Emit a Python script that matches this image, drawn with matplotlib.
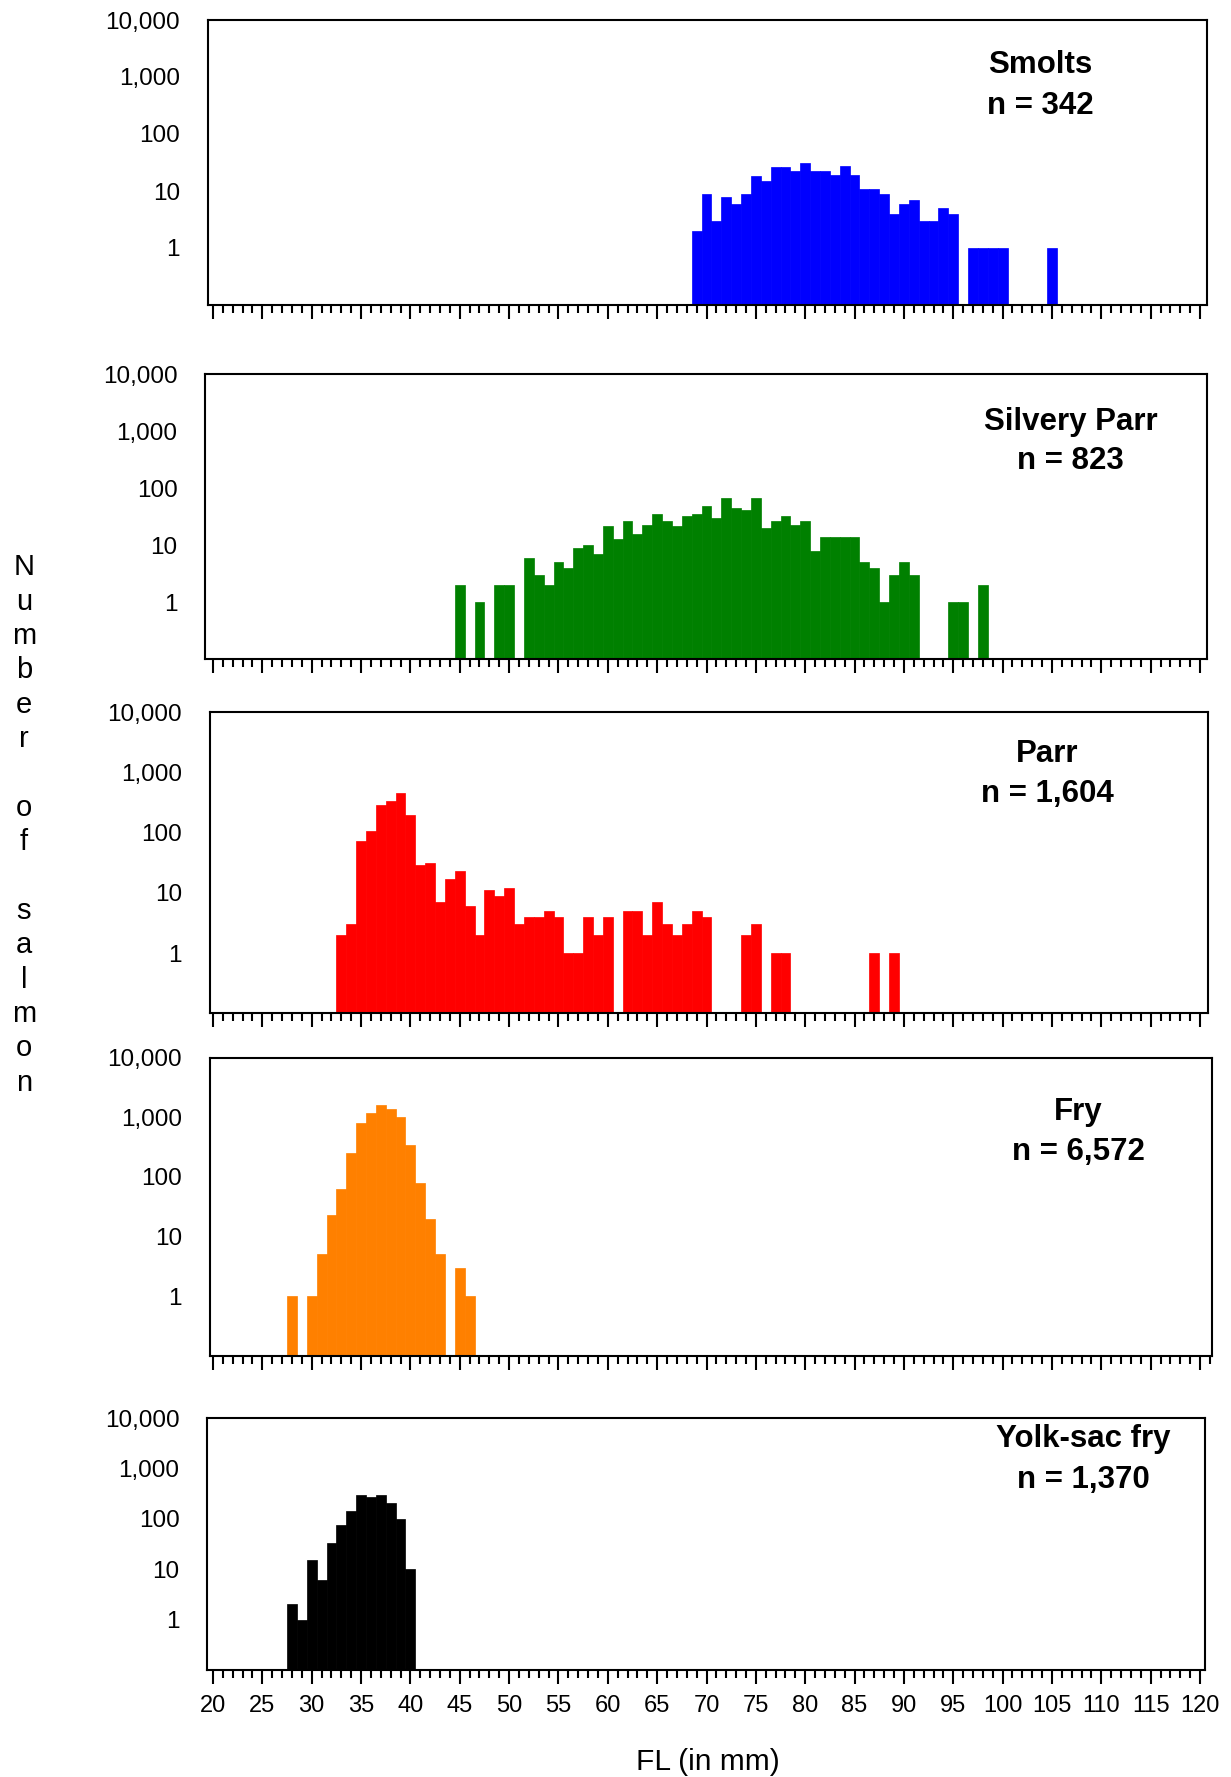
import matplotlib
matplotlib.use("Agg")
import matplotlib.pyplot as plt
from matplotlib.ticker import FixedLocator, MultipleLocator, FuncFormatter

plt.rcParams['font.family'] = ['Liberation Sans', 'DejaVu Sans']

# fork length (mm) and number of salmon caught, by life stage
smolt_fl = [69, 70, 71, 72, 73, 74, 75, 76, 77, 78, 79, 80, 81, 82, 83, 84, 85, 86, 87, 88,
            89, 90, 91, 92, 93, 94, 95, 97, 98, 99, 100, 105]
smolt_n = [2, 9, 3, 8, 6, 9, 18, 15, 26, 26, 22, 31, 22, 22, 19, 28, 19, 11, 11, 9,
           4, 6, 7, 3, 3, 5, 4, 1, 1, 1, 1, 1]

silvery_fl = [45, 47, 49, 50, 52, 53, 54, 55, 56, 57, 58, 59, 60, 61, 62, 63, 64, 65, 66, 67,
              68, 69, 70, 71, 72, 73, 74, 75, 76, 77, 78, 79, 80, 81, 82, 83, 84, 85, 86, 87,
              88, 89, 90, 91, 95, 96, 98]
silvery_n = [2, 1, 2, 2, 6, 3, 2, 5, 4, 9, 10, 7, 22, 13, 27, 16, 23, 35, 27, 22,
             32, 35, 48, 30, 66, 45, 41, 66, 20, 27, 32, 23, 27, 8, 14, 14, 14, 14, 5, 4,
             1, 3, 5, 3, 1, 1, 2]

parr_fl = [33, 34, 35, 36, 37, 38, 39, 40, 41, 42, 43, 44, 45, 46, 47, 48, 49, 50, 51, 52,
           53, 54, 55, 56, 57, 58, 59, 60, 62, 63, 64, 65, 66, 67, 68, 69, 70, 74, 75, 77,
           78, 87, 89]
parr_n = [2, 3, 72, 105, 284, 331, 450, 194, 29, 31, 7, 17, 23, 6, 2, 11, 9, 12, 3, 4,
          4, 5, 4, 1, 1, 4, 2, 4, 5, 5, 2, 7, 3, 2, 3, 5, 4, 2, 3, 1,
          1, 1, 1]

fry_fl = [28, 30, 31, 32, 33, 34, 35, 36, 37, 38, 39, 40, 41, 42, 43, 45, 46]
fry_n = [1, 1, 5, 23, 63, 252, 802, 1180, 1607, 1377, 1012, 343, 79, 20, 5, 3, 1]

yolk_fl = [28, 29, 30, 31, 32, 33, 34, 35, 36, 37, 38, 39, 40]
yolk_n = [2, 1, 15, 6, 33, 75, 143, 297, 271, 297, 206, 99, 10]

stages = ["Smolts", "Silvery Parr", "Parr", "Fry", "Yolk-sac fry"]
totals = ["n = 342", "n = 823", "n = 1,604", "n = 6,572", "n = 1,370"]
colors = ["#0000FF", "#008000", "#FF0000", "#FF8000", "#000000"]
series = [(smolt_fl, smolt_n), (silvery_fl, silvery_n), (parr_fl, parr_n),
          (fry_fl, fry_n), (yolk_fl, yolk_n)]

W, H = 1231, 1777
# panel boxes in pixels: left, top, right, bottom
boxes = [(207.7, 20, 1207, 305), (205.2, 374, 1207, 659.3), (209.7, 712, 1208, 1013.3),
         (209.7, 1057.6, 1211.7, 1355.7), (207.4, 1418, 1205, 1670)]
# label spots (axes fraction): x, y of stage name, y of n
label_pos = [(0.833, 0.843, 0.700), (0.864, 0.833, 0.694), (0.839, 0.861, 0.729),
             (0.867, 0.817, 0.685), (0.878, 0.915, 0.752)]
x20_px, px_mm = 213.0, 9.87

fig = plt.figure(figsize=(W / 100, H / 100), dpi=100)

for i, (fl, n) in enumerate(series):
    l, t, r, b = boxes[i]
    ax = fig.add_axes([l / W, 1 - b / H, (r - l) / W, (b - t) / H])
    ax.bar(fl, n, width=1.0, color=colors[i], edgecolor=colors[i], linewidth=0.5)
    ax.set_yscale('log')
    ax.set_ylim(0.1, 10000)
    ax.set_xlim(20 + (l - x20_px) / px_mm, 20 + (r - x20_px) / px_mm)

    ax.yaxis.set_major_locator(FixedLocator([1, 10, 100, 1000, 10000]))
    ax.yaxis.set_minor_locator(FixedLocator([]))
    ax.yaxis.set_major_formatter(FuncFormatter(lambda v, p: f"{int(round(v)):,}"))
    ax.tick_params(axis='y', length=0, pad=20, labelsize=17.5)

    ax.xaxis.set_major_locator(MultipleLocator(5))
    ax.xaxis.set_minor_locator(MultipleLocator(1))
    ax.tick_params(axis='x', which='major', direction='out', length=10, width=1.5,
                   labelsize=17, pad=8)
    ax.tick_params(axis='x', which='minor', direction='out', length=5.5, width=1.5)
    if i < 4:
        ax.tick_params(axis='x', labelbottom=False)
    for s in ax.spines.values():
        s.set_linewidth(1.5)

    px, py1, py2 = label_pos[i]
    ax.text(px, py1, stages[i], transform=ax.transAxes, ha='center', va='center',
            fontsize=22.5, fontweight='bold')
    ax.text(px, py2, totals[i], transform=ax.transAxes, ha='center', va='center',
            fontsize=22.5, fontweight='bold')

ylab = "\n".join(list("Number of salmon"))
fig.text(23.8 / W, 1 - 825 / H, ylab, ha='center', va='center', fontsize=21,
         linespacing=1.29)
fig.text(708 / W, 1 - 1762 / H, "FL (in mm)", ha='center', va='center', fontsize=21.5)

fig.savefig("out.png", dpi=100)
